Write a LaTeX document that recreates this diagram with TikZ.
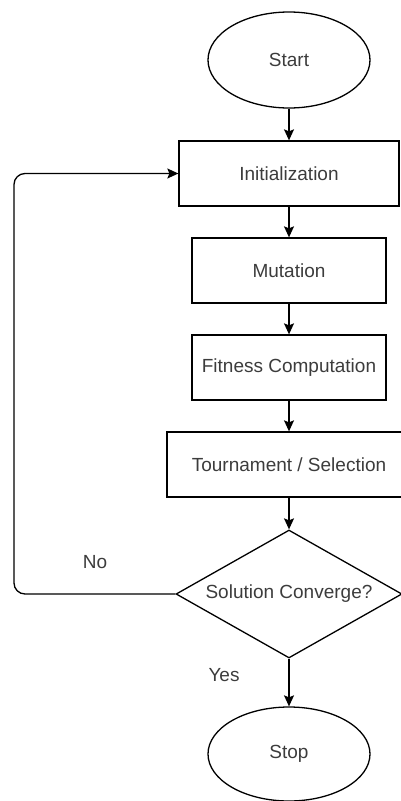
\documentclass[tikz,border=0pt]{standalone}
\usepackage{fontspec}
\setmainfont{Liberation Sans}
\usepackage{xcolor}
\usetikzlibrary{arrows.meta,shapes.geometric,positioning}
\definecolor{txtgray}{HTML}{3C3C3C}

\begin{document}
\begin{tikzpicture}[x=1pt,y=-1pt,line width=1.3pt,
  every node/.style={font=\fontsize{19}{22}\selectfont,text=txtgray},
  box/.style={draw=black,rectangle,minimum height=65pt,inner sep=0pt},
  oval/.style={draw=black,ellipse,minimum width=162pt,inner sep=0pt},
  arr/.style={draw=black,-{Stealth[length=11pt,width=10pt,inset=2pt]}}]
  \useasboundingbox (0,0) rectangle (401,801);
  \node[oval,minimum height=96pt] (start) at (289,60) {Start};
  \node[box,minimum width=220pt] (init) at (289,173.5) {Initialization};
  \node[box,minimum width=194pt] (mut) at (289,270.5) {Mutation};
  \node[box,minimum width=194pt] (fit) at (289,367.5) {Fitness Computation};
  \node[box,minimum width=244pt] (tour) at (289,464.5) {Tournament / Selection};
  \node[draw=black,diamond,aspect=1.77,inner sep=0pt,minimum width=226pt,minimum height=128pt] (conv) at (289,594) {Solution Converge?};
  \node[oval,minimum height=94pt] (stop) at (289,754) {Stop};
  \node (lblno) at (95,562) {No};
  \node (lblyes) at (224,675) {Yes};
  \coordinate (bend) at (14,594);
  \draw[arr] (start) -- (init);
  \draw[arr] (init) -- (mut);
  \draw[arr] (mut) -- (fit);
  \draw[arr] (fit) -- (tour);
  \draw[arr] (tour) -- (conv);
  \draw[arr] (conv) -- (stop);
  \draw[arr,rounded corners=11pt] (conv.west) -- (bend) |- (init.west);
\end{tikzpicture}
\end{document}
